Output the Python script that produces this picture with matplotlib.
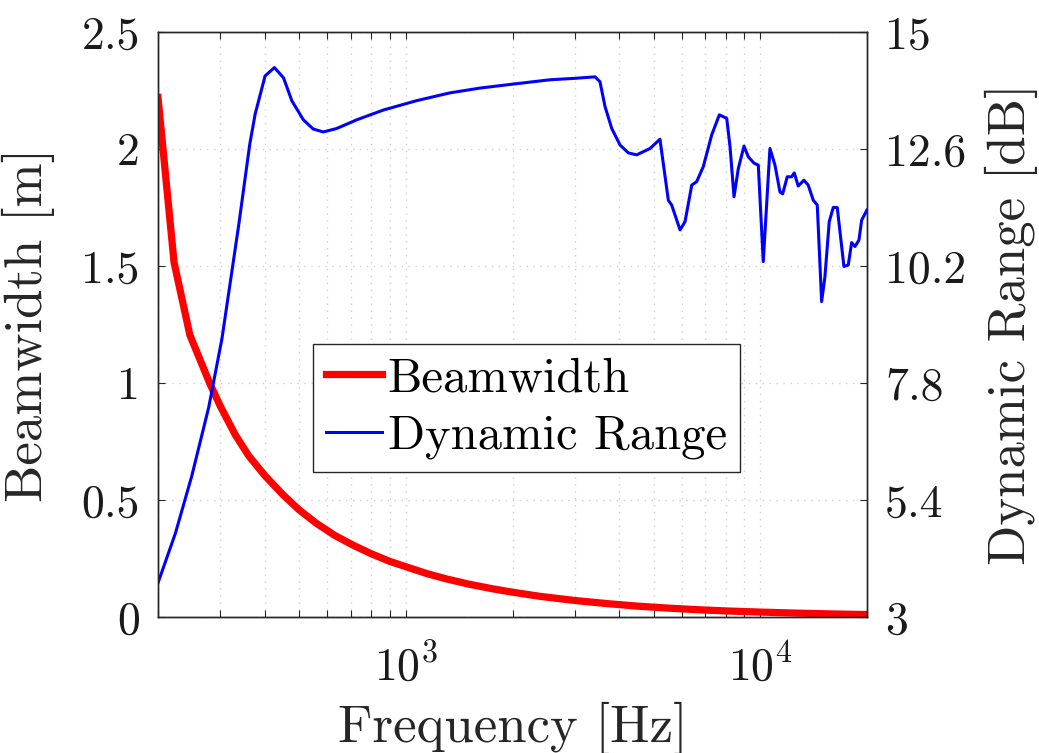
import matplotlib
matplotlib.use("Agg")
import matplotlib.pyplot as plt
from matplotlib.ticker import FixedLocator, FixedFormatter, LogLocator, NullFormatter

plt.rcParams["font.family"] = "cmr10"
plt.rcParams["mathtext.fontset"] = "cm"
plt.rcParams["axes.formatter.use_mathtext"] = True

# Beamwidth [m] vs frequency [Hz]
bw_freq = [200, 222, 246, 280, 300, 330, 360, 400, 450, 500, 560, 630, 710,
           800, 900, 1000, 1150, 1300, 1500, 1750, 2000, 2400, 3000, 3700,
           4500, 5500, 6700, 8000, 10000, 12500, 16000, 20000]
bw_val = [2.22, 1.515, 1.205, 0.998, 0.90, 0.78, 0.69, 0.605, 0.523, 0.458,
          0.40, 0.349, 0.307, 0.27, 0.238, 0.215, 0.185, 0.163, 0.141, 0.121,
          0.106, 0.088, 0.0705, 0.0572, 0.0465, 0.038, 0.031, 0.026, 0.021,
          0.0168, 0.0131, 0.0105]

# Dynamic range [dB] vs frequency [Hz]
dr_freq = [200, 224, 249, 278, 303, 338, 363, 376, 401, 426, 452, 477, 514,
           548, 585, 638, 728, 865, 1071, 1329, 1620, 2000, 2552, 3002, 3419,
           3530, 3648, 3811, 4023, 4245, 4481, 4885, 5212, 5503, 5624, 5938,
           6134, 6408, 6617, 6907, 7295, 7664, 8040, 8215, 8431, 8670, 8997,
           9250, 9600, 9871, 10195, 10648, 11000, 11363, 11564, 11915, 12258,
           12469, 12794, 13276, 13652, 14106, 14479, 14896, 15218, 15650,
           16062, 16485, 17216, 17707, 18103, 18496, 18978, 19317, 20000]
dr_val = [3.70, 4.72, 5.89, 7.30, 8.71, 11.05, 12.70, 13.32, 14.10, 14.27,
          14.06, 13.59, 13.20, 13.01, 12.95, 13.02, 13.20, 13.40, 13.59, 13.75,
          13.85, 13.93, 14.02, 14.05, 14.08, 13.98, 13.47, 13.02, 12.68, 12.52,
          12.48, 12.61, 12.80, 11.55, 11.45, 10.94, 11.11, 11.86, 11.93, 12.24,
          12.89, 13.30, 13.23, 12.65, 11.62, 12.20, 12.66, 12.44, 12.31, 12.27,
          10.29, 12.61, 12.27, 11.72, 11.68, 12.03, 12.03, 12.11, 11.84, 11.96,
          11.86, 11.55, 11.45, 9.47, 9.98, 11.11, 11.40, 11.40, 10.19, 10.22,
          10.68, 10.60, 10.73, 11.14, 11.35]

left_ticks = [0, 0.5, 1, 1.5, 2, 2.5]
left_labels = ["0", "0.5", "1", "1.5", "2", "2.5"]
right_ticks = [3, 5.4, 7.8, 10.2, 12.6, 15]
right_labels = ["3", "5.4", "7.8", "10.2", "12.6", "15"]

DARK = "#262626"
W, H = 1039, 753

fig = plt.figure(figsize=(W / 100, H / 100), dpi=100)
ax = fig.add_axes([158 / W, (H - 617) / H, 709 / W, 585 / H])
ax2 = ax.twinx()

l1, = ax.plot(bw_freq, bw_val, color="red", lw=5.2, label="Beamwidth")
l2, = ax2.plot(dr_freq, dr_val, color="blue", lw=2.2, label="Dynamic Range")

ax.set_xscale("log")
ax.set_xlim(200, 20000)
ax.set_ylim(0, 2.5)
ax2.set_ylim(3, 15)

ax.xaxis.set_major_locator(FixedLocator([1e3, 1e4]))
ax.xaxis.set_minor_locator(LogLocator(base=10, subs=range(2, 10), numticks=20))
ax.xaxis.set_minor_formatter(NullFormatter())

ax.yaxis.set_major_locator(FixedLocator(left_ticks))
ax.yaxis.set_major_formatter(FixedFormatter(left_labels))
ax2.yaxis.set_major_locator(FixedLocator(right_ticks))
ax2.yaxis.set_major_formatter(FixedFormatter(right_labels))

grid_kw = dict(lw=1.0, color="#cfcfcf", dashes=(1, 4))
ax.grid(True, which="both", axis="x", **grid_kw)
ax.grid(True, which="major", axis="y", **grid_kw)
ax.set_axisbelow(True)

ax.tick_params(axis="x", which="both", direction="in", top=True, length=5,
               width=0.8, color=DARK, labelsize=33, pad=19, labelcolor="#1a1a1a")
ax.tick_params(axis="y", which="both", direction="in", right=False, length=5,
               width=0.8, color=DARK, labelsize=33, pad=13, labelcolor="#1a1a1a")
ax2.tick_params(axis="y", direction="in", length=5, width=0.8, color=DARK,
                labelsize=33, pad=13, labelcolor="#1a1a1a")

for a in (ax, ax2):
    for s in a.spines.values():
        s.set_color(DARK)
        s.set_linewidth(1.0)

ax.set_xlabel("Frequency [Hz]", fontsize=38, color=DARK)
ax.set_ylabel("Beamwidth [m]", fontsize=38, color=DARK)
ax2.set_ylabel("Dynamic Range [dB]", fontsize=38, color=DARK)
ax.xaxis.set_label_coords(0.5, -0.145)
ax.yaxis.set_label_coords(-0.1453, 0.5)
ax2.yaxis.set_label_coords(1.1664, 0.5)

leg = ax2.legend([l1, l2], ["Beamwidth", "Dynamic Range"], loc="upper left",
                 bbox_to_anchor=(0.2186, 0.4667), borderaxespad=0,
                 fontsize=35, handlelength=1.15, handletextpad=0.12,
                 borderpad=0.27, labelspacing=0.27, fancybox=False,
                 framealpha=1, edgecolor=DARK)
leg.get_frame().set_linewidth(1.0)

fig.savefig("out.png", dpi=100)
